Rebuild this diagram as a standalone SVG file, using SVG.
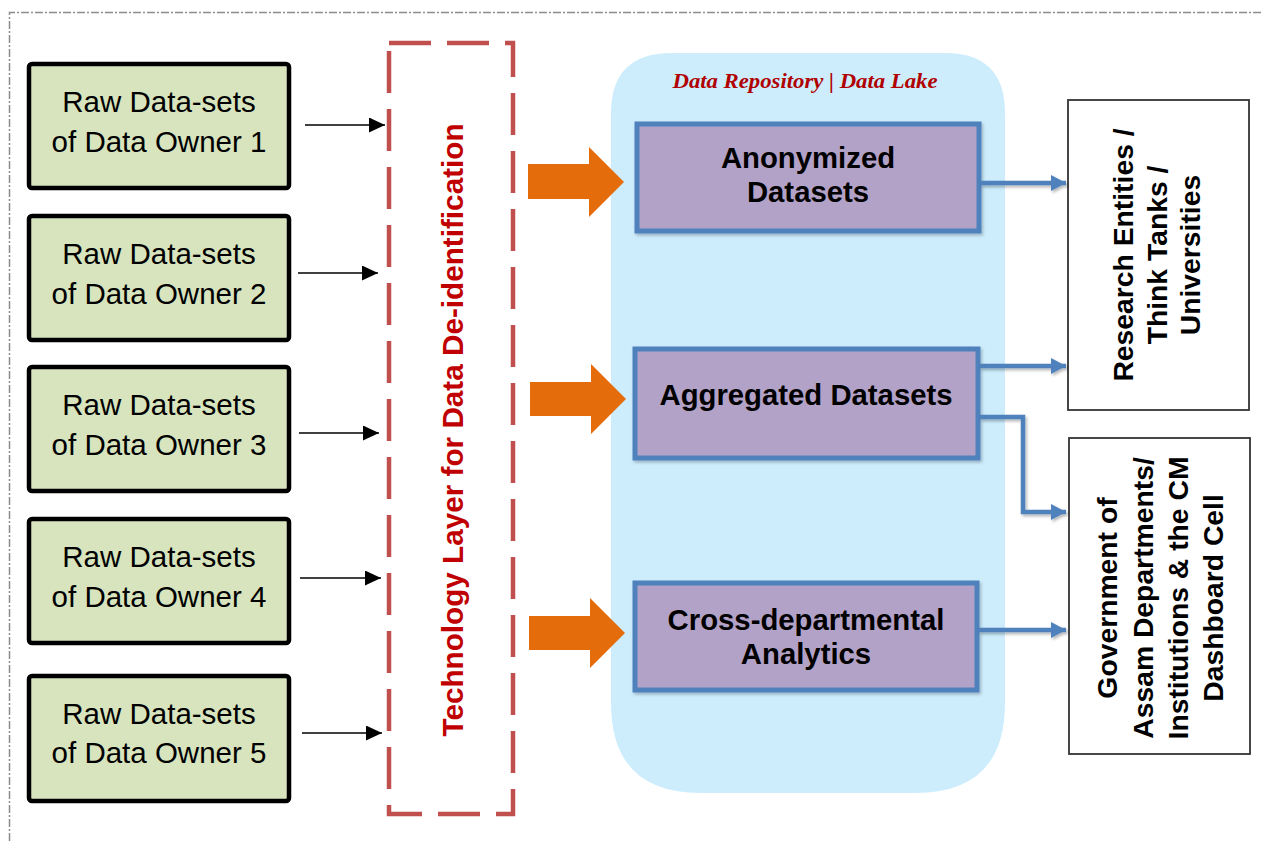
<svg xmlns="http://www.w3.org/2000/svg" width="1262" height="841" viewBox="0 0 1262 841">
<style>
.owner rect{fill:#d7e4bd;stroke:#000;stroke-width:4.5}
.owner text{font-family:"Liberation Sans",Arial,sans-serif;font-size:29.5px;fill:#000;text-anchor:middle}
.store rect{fill:#b3a2c7;stroke:#4f81bd;stroke-width:5}
.store text{font-family:"Liberation Sans",Arial,sans-serif;font-size:29.3px;font-weight:bold;fill:#000;text-anchor:middle}
.user rect{fill:#fff;stroke:#333;stroke-width:1.8}
.user text{font-family:"Liberation Sans",Arial,sans-serif;font-size:28.3px;font-weight:bold;fill:#000;text-anchor:middle}
.thin{stroke:#000;stroke-width:1.6;fill:none;marker-end:url(#blk)}
.blue{stroke:#4f81bd;stroke-width:4.5;fill:none;marker-end:url(#bl);filter:url(#sh)}
.orange{fill:#e46c0a}
</style>
<defs>
<marker id="blk" markerUnits="userSpaceOnUse" markerWidth="16" markerHeight="15" refX="16" refY="7.5" orient="auto"><path d="M0,0 L16,7.5 L0,15 z" fill="#000"/></marker>
<marker id="bl" markerUnits="userSpaceOnUse" markerWidth="16" markerHeight="16" refX="15" refY="8" orient="auto"><path d="M0,0 L15,8 L0,16 z" fill="#4f81bd"/></marker>
<filter id="sh" filterUnits="userSpaceOnUse" x="0" y="0" width="1262" height="841"><feDropShadow dx="1.5" dy="2" stdDeviation="1.5" flood-color="#000" flood-opacity="0.3"/></filter>
<filter id="bsh" x="-5%" y="-5%" width="115%" height="120%"><feDropShadow dx="1.5" dy="2" stdDeviation="1.5" flood-color="#000" flood-opacity="0.25"/></filter>
</defs>

<rect width="1262" height="841" fill="#fff"/>
<path d="M9.5,841 L9.5,12.5 L1262,12.5" fill="none" stroke="#8c8c8c" stroke-width="1.5" stroke-dasharray="8 2 2 2"/>

<g id="owner1" class="owner"><rect x="29" y="64" width="260" height="124" rx="3"/><text x="159" y="112">Raw Data-sets</text><text x="159" y="152">of Data Owner 1</text></g>
<g id="owner2" class="owner"><rect x="29" y="216" width="260" height="124" rx="3"/><text x="159" y="264">Raw Data-sets</text><text x="159" y="304">of Data Owner 2</text></g>
<g id="owner3" class="owner"><rect x="29" y="367" width="260" height="124" rx="3"/><text x="159" y="415">Raw Data-sets</text><text x="159" y="455">of Data Owner 3</text></g>
<g id="owner4" class="owner"><rect x="29" y="519" width="260" height="124" rx="3"/><text x="159" y="567">Raw Data-sets</text><text x="159" y="607">of Data Owner 4</text></g>
<g id="owner5" class="owner"><rect x="29" y="676" width="260" height="125" rx="3"/><text x="159" y="724">Raw Data-sets</text><text x="159" y="763">of Data Owner 5</text></g>

<g id="tech-layer">
<rect x="389" y="43" width="124" height="771" fill="none" stroke="#c0504d" stroke-width="4.5" stroke-dasharray="42 16"/>
<text transform="rotate(-90)" x="-430" y="463" font-family="Liberation Sans,Arial,sans-serif" font-size="29.7" font-weight="bold" fill="#c00000" text-anchor="middle">Technology Layer for Data De-identification</text>
</g>

<g id="data-lake">
<path d="M672,53 L945,53 Q1005,53 1005,113 L1005,703 Q1005,793 915,793 L701,793 Q611,793 611,703 L611,113 Q611,53 672,53 z" fill="#cdedfd"/>
<text x="805" y="88" font-family="Liberation Serif,serif" font-style="italic" font-weight="bold" font-size="21" fill="#b00000" text-anchor="middle" textLength="265" lengthAdjust="spacingAndGlyphs">Data Repository | Data Lake</text>
</g>

<g id="anonymized" class="store"><rect x="637" y="124" width="342" height="107" filter="url(#bsh)"/><text x="808" y="168">Anonymized</text><text x="808" y="202">Datasets</text></g>
<g id="aggregated" class="store"><rect x="635" y="349" width="343" height="109" filter="url(#bsh)"/><text x="806" y="405">Aggregated Datasets</text></g>
<g id="cross" class="store"><rect x="635" y="583" width="342" height="107" filter="url(#bsh)"/><text x="806" y="630">Cross-departmental</text><text x="806" y="664">Analytics</text></g>

<g id="research" class="user"><rect x="1068" y="100" width="181" height="310"/>
<text transform="rotate(-90)" x="-255" y="1133">Research Entities /</text>
<text transform="rotate(-90)" x="-255" y="1167">Think Tanks /</text>
<text transform="rotate(-90)" x="-255" y="1200">Universities</text>
</g>
<g id="government" class="user"><rect x="1069" y="438" width="181" height="316"/>
<text transform="rotate(-90)" x="-598" y="1117">Government of</text>
<text transform="rotate(-90)" x="-598" y="1153">Assam Departments/</text>
<text transform="rotate(-90)" x="-598" y="1188">Institutions &amp; the CM</text>
<text transform="rotate(-90)" x="-598" y="1223">Dashboard Cell</text>
</g>

<g id="connectors">
<line class="thin" x1="305" y1="125" x2="385" y2="125"/>
<line class="thin" x1="298" y1="273" x2="378" y2="273"/>
<line class="thin" x1="299" y1="433" x2="379" y2="433"/>
<line class="thin" x1="300" y1="578" x2="381" y2="578"/>
<line class="thin" x1="302" y1="733" x2="382" y2="733"/>
<path class="orange" d="M528,164 L589,164 L589,147 L624,182 L589,217 L589,199 L528,199 z"/>
<path class="orange" d="M530,382 L591,382 L591,364 L626,399 L591,434 L591,416 L530,416 z"/>
<path class="orange" d="M529,616 L590,616 L590,598 L625,633 L590,668 L590,650 L529,650 z"/>
<path class="blue" d="M981,183 L1066,183"/>
<path class="blue" d="M980,366 L1066,366"/>
<path class="blue" d="M980,417 L1023,417 L1023,512 L1066,512"/>
<path class="blue" d="M979,630 L1066,630"/>
</g>
</svg>
